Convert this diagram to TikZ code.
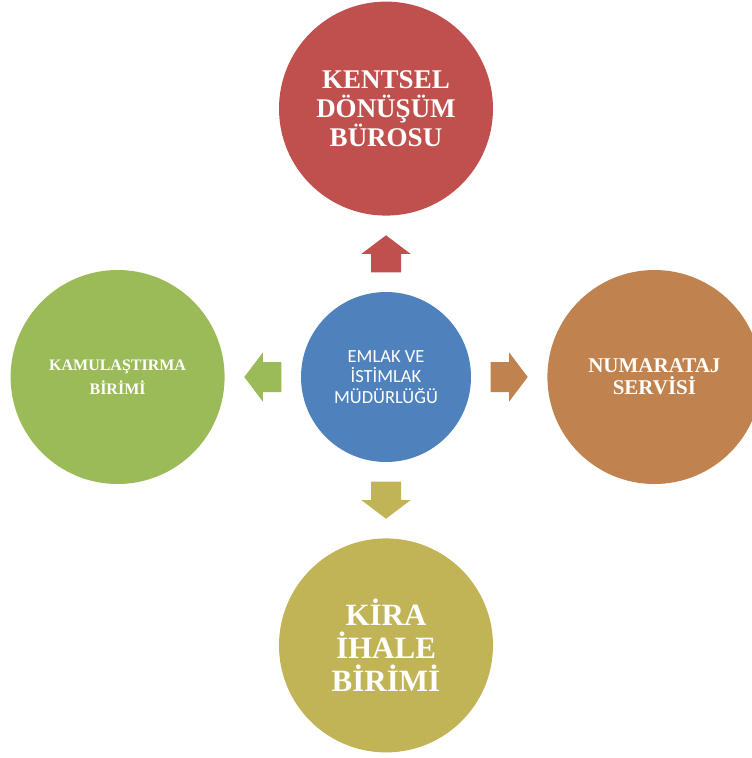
\documentclass[tikz,border=0pt]{standalone}
\usepackage{fontspec}
\setmainfont{Liberation Serif}
\newfontfamily\calibrifont{Carlito}
\usetikzlibrary{positioning,calc}

\definecolor{hubblue}{HTML}{4F81BD}
\definecolor{unitred}{HTML}{C0504D}
\definecolor{unitgreen}{HTML}{9BBB59}
\definecolor{unitorange}{HTML}{C08350}
\definecolor{unitolive}{HTML}{C0B456}

\tikzset{
    hub/.style={circle, fill=hubblue, text=white, minimum size=170pt, inner sep=0pt, align=center,
        font=\calibrifont\fontsize{18.5}{20.5}\selectfont},
    unit/.style={circle, fill=#1, text=white, minimum size=214pt, inner sep=0pt, align=center},
    blockarrow/.pic={
        \fill[pic actions] (-18.5,-15) -- (0,-15) -- (0,-24.5) -- (18.5,0) -- (0,24.5) -- (0,15) -- (-18.5,15) -- cycle;
    }
}

\begin{document}
\begin{tikzpicture}[x=1pt, y=-1pt, node distance=76pt]
    \useasboundingbox (0,0) rectangle (752,758);
    \clip (0,0) rectangle (752,758);

    \node[hub] (emlak) at (386,377) {EMLAK VE\\İSTİMLAK\\MÜDÜRLÜĞÜ};

    \node[unit=unitred, above=of emlak, font=\bfseries\fontsize{27}{29}\selectfont] (kentsel) {KENTSEL\\DÖNÜŞÜM\\BÜROSU};
    \node[unit=unitgreen, left=of emlak, font=\bfseries\fontsize{16}{24}\selectfont] (kamulastirma) {KAMULAŞTIRMA\\BİRİMİ};
    \node[unit=unitorange, right=of emlak, font=\bfseries\fontsize{21}{22}\selectfont] (numarataj) {NUMARATAJ\\SERVİSİ};
    \node[unit=unitolive, below=of emlak, font=\bfseries\fontsize{31}{33}\selectfont] (kira) {KİRA\\İHALE\\BİRİMİ};

    % block arrows from the hub to each unit
    \pic[fill=unitred, rotate=90] at ($(emlak.north)!.5!(kentsel.south)$) {blockarrow};
    \pic[fill=unitgreen, rotate=180] at ($(emlak.west)!.5!(kamulastirma.east)$) {blockarrow};
    \pic[fill=unitorange] at ($(emlak.east)!.5!(numarataj.west)$) {blockarrow};
    \pic[fill=unitolive, rotate=-90] at ($(emlak.south)!.5!(kira.north)$) {blockarrow};
\end{tikzpicture}
\end{document}
